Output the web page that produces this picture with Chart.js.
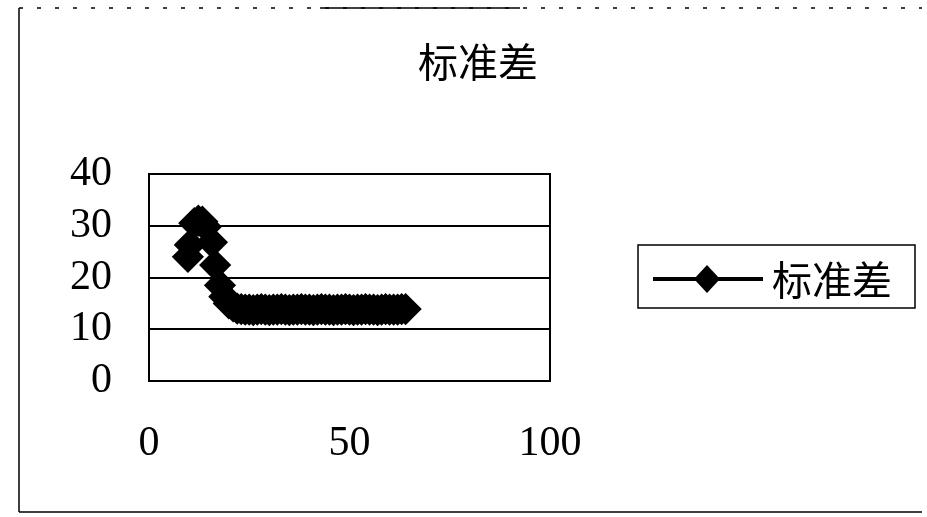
<!DOCTYPE html>
<html>
<head>
<meta charset="utf-8">
<script src="https://cdn.jsdelivr.net/npm/chart.js@4/dist/chart.umd.min.js"></script>
<style>
  html, body { margin: 0; padding: 0; background: #fff; }
  #wrap { width: 927px; height: 517px; }
</style>
</head>
<body>
<div id="wrap"><canvas id="chart-std" width="927" height="517"></canvas></div>
<script>
// 标准差 – scatter with lines and diamond markers

const titulo = "标准差";
const serieNome = "标准差";

const xTicks = [0, 50, 100];
const yTicks = [0, 10, 20, 30, 40];

const xValores = [
  9.7, 10.2, 11.3, 12.3, 13.3, 14.2, 15.7, 16.5, 17.7, 18.8, 19.9, 21, 22, 23,
  24, 25, 26, 27, 28, 29, 30, 31, 32, 33,
  34, 35, 36, 37, 38, 39, 40, 41, 42, 43,
  44, 45, 46, 47, 48, 49, 50, 51, 52, 53,
  54, 55, 56, 57, 58, 59, 60, 61, 62, 63,
  64
];

const desvios = [
  24.0, 26.3, 30.5, 31.0, 30.8, 29.8, 26.8, 22.4, 18.5, 16.3, 15.0, 14.4, 14.0, 13.9,
  13.8, 13.8, 13.7, 13.8, 13.9, 13.8, 13.7, 13.8, 13.8, 13.9,
  13.8, 13.7, 13.8, 13.8, 13.9, 13.8, 13.8, 13.7, 13.8, 13.9,
  13.8, 13.8, 13.7, 13.8, 13.8, 13.9, 13.8, 13.7, 13.8, 13.8,
  13.9, 13.8, 13.8, 13.7, 13.8, 13.9, 13.8, 13.8, 13.8, 13.9,
  13.9
];

const pontos = xValores.map((x, i) => ({ x, y: desvios[i] }));

const fonteNum = "Liberation Serif";
const fonteCJK = "'Noto Sans CJK SC'";

// moldura, título e legenda desenhados à mão
const extrasPlugin = {
  id: "extras",
  afterDraw(chart) {
    const ctx = chart.ctx;
    const a = chart.chartArea;
    ctx.save();

    // moldura do gráfico
    ctx.strokeStyle = "#000";
    ctx.lineWidth = 1.5;
    ctx.beginPath();
    ctx.moveTo(19, 8); ctx.lineTo(19, 512);
    ctx.moveTo(19, 512); ctx.lineTo(922, 512);
    ctx.moveTo(320, 8); ctx.lineTo(520, 8);
    ctx.stroke();
    ctx.beginPath();
    ctx.setLineDash([4, 14]);
    ctx.moveTo(19, 8); ctx.lineTo(922, 8);
    ctx.stroke();
    ctx.setLineDash([]);

    // caixa da área do gráfico
    ctx.lineWidth = 2;
    ctx.strokeRect(a.left, a.top, a.right - a.left, a.bottom - a.top);

    // título
    ctx.fillStyle = "#000";
    ctx.font = "40px " + fonteCJK;
    ctx.textAlign = "center";
    ctx.textBaseline = "middle";
    ctx.fillText(titulo, 478, 62);

    // legenda
    ctx.lineWidth = 1.5;
    ctx.strokeRect(638, 245, 277, 63);
    ctx.lineWidth = 4;
    ctx.beginPath();
    ctx.moveTo(653, 279); ctx.lineTo(763, 279);
    ctx.stroke();
    ctx.beginPath();
    ctx.moveTo(707, 265); ctx.lineTo(720, 279);
    ctx.lineTo(707, 293); ctx.lineTo(694, 279);
    ctx.closePath();
    ctx.fill();
    ctx.font = "40px " + fonteCJK;
    ctx.textAlign = "left";
    ctx.fillText(serieNome, 772, 280);

    ctx.restore();
  }
};

const ctx = document.getElementById("chart-std").getContext("2d");

new Chart(ctx, {
  type: "scatter",
  data: {
    datasets: [{
      label: serieNome,
      data: pontos,
      showLine: true,
      borderColor: "#000",
      backgroundColor: "#000",
      borderWidth: 3,
      pointStyle: "rectRot",
      pointRadius: 14,
      pointBorderWidth: 3,
      pointHoverRadius: 14,
    }]
  },
  options: {
    responsive: false,
    animation: false,
    devicePixelRatio: 1,
    layout: { padding: { left: 0, top: 174, right: 377, bottom: 0 } },
    plugins: {
      legend: { display: false },
      title: { display: false },
      tooltip: { enabled: false },
    },
    scales: {
      x: {
        type: "linear",
        min: 0,
        max: 100,
        afterBuildTicks: (s) => { s.ticks = xTicks.map(v => ({ value: v })); },
        afterFit: (s) => { s.height = 136; },
        grid: { display: false, drawTicks: false },
        border: { color: "#000", width: 2 },
        ticks: {
          color: "#000",
          padding: 38,
          maxRotation: 0,
          autoSkip: false,
          font: { family: fonteNum, size: 42 },
        },
      },
      y: {
        min: 0,
        max: 40,
        afterBuildTicks: (s) => { s.ticks = yTicks.map(v => ({ value: v })); },
        afterFit: (s) => { s.width = 149; },
        grid: { color: "#000", lineWidth: 2, drawTicks: false },
        border: { color: "#000", width: 2 },
        ticks: {
          color: "#000",
          padding: 37,
          autoSkip: false,
          font: { family: fonteNum, size: 42 },
        },
      },
    },
  },
  plugins: [extrasPlugin],
});
</script>
</body>
</html>
